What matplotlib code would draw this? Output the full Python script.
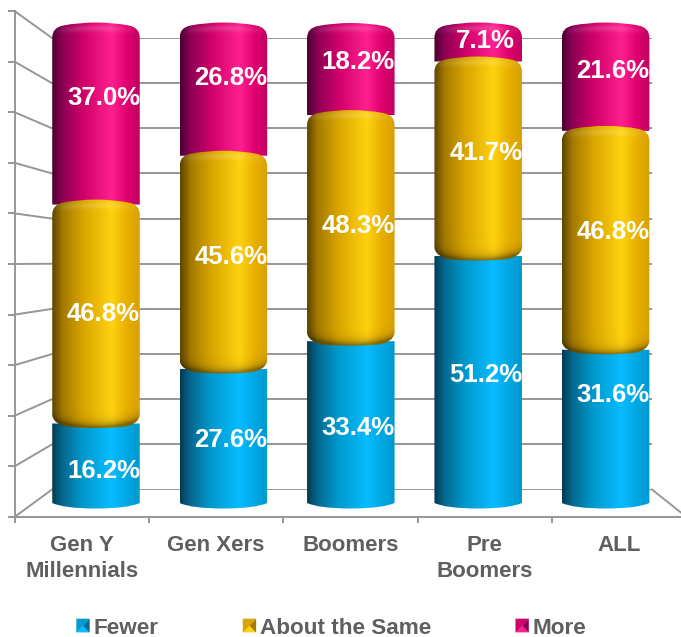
from __future__ import annotations

import matplotlib

matplotlib.use("Agg")

import matplotlib.pyplot as plt
import numpy as np
from matplotlib.legend_handler import HandlerBase
from matplotlib.lines import Line2D
from matplotlib.patches import Patch, PathPatch, Polygon
from matplotlib.path import Path

categories = ["Gen Y\nMillennials", "Gen Xers", "Boomers", "Pre\nBoomers", "ALL"]
fewer = [16.2, 27.6, 33.4, 51.2, 31.6]
same = [46.8, 45.6, 48.3, 41.7, 46.8]
more = [37.0, 26.8, 18.2, 7.1, 21.6]
y_ticks = list(range(0, 101, 10))

# labels were placed by hand in the original, pixels up from segment middle
nudge_fewer = [-9, -5, -7, 4, 30]
nudge_same = [-2, 3, 0, 3, 6]
nudge_more = [13, 9, 5, -2, 3]

W, H = 681, 637
GRID = "#969696"
TEXT = "#5f5f5f"
STOPS = [0.0, 0.12, 0.35, 0.68, 0.85, 1.0]
BLUE = ["#043a52", "#05688f", "#0099cc", "#08bcff", "#00a8e4", "#0098cf"]
GOLD = ["#5e4500", "#a37a00", "#d8a400", "#ffd20f", "#e8b000", "#d9a000"]
PINK = ["#4d0030", "#8c0055", "#cf0068", "#ff2090", "#e0006f", "#c00060"]

# bar plane: value 0 sits at y=501px, 4.785 px per percent, 127.4 px per category
PX_Y = 4.785
PX_X = 127.4
BAR_WIDTH = 0.687


def px_axes(fig, left, right, top, bottom, **kwargs):
    return fig.add_axes(
        [left / W, 1 - bottom / H, (right - left) / W, (bottom - top) / H], **kwargs
    )


def to_rgb_array(colors):
    return np.array([matplotlib.colors.to_rgb(c) for c in colors])


def shading(colors, height_px, width_px, kind):
    rows, cols = int(height_px * 2), int(width_px * 2)
    t = np.linspace(0, 1, cols)
    y = np.linspace(0, height_px, rows)
    tt, yy = np.meshgrid(t, y)
    rgb = to_rgb_array(colors)
    img = np.dstack([np.interp(tt, STOPS, rgb[:, k]) for k in range(3)])

    edge = (2 * tt - 1) ** 2
    if kind in ("middle", "top"):
        v = yy - 3 * edge
        glow = 0.16 * np.exp(-(((v - 6) / 3) ** 2)) * (1 - edge)
        img = img + (1 - img) * glow[..., None]
    if kind == "middle":
        d = (height_px - 9) - yy + 7 * (1 - edge) - 3
        dark = 1 - 0.42 * np.exp(-np.clip(d, 0, None) / 4)
        img = img * dark[..., None]
    return np.clip(img, 0, 1)


def segment_path(i, low, high, kind):
    dx = 1 / PX_X
    dy = 1 / PX_Y
    x0, x1 = i - BAR_WIDTH / 2, i + BAR_WIDTH / 2
    verts = []
    codes = []

    def add(code, x, y):
        verts.append((x, y))
        codes.append(code)

    # bottom edge, left to right
    if kind == "bottom":
        add(Path.MOVETO, x0, low - 2 * dy)
        add(Path.CURVE3, x0 + 12 * dx, low - 7.5 * dy)
        add(Path.CURVE3, i, low - 7.5 * dy)
        add(Path.CURVE3, x1 - 12 * dx, low - 7.5 * dy)
        add(Path.CURVE3, x1, low - 2 * dy)
    elif kind == "middle":
        add(Path.MOVETO, x0, low + 8 * dy)
        add(Path.CURVE3, x0 + 2 * dx, low - 2 * dy)
        add(Path.CURVE3, x0 + 18 * dx, low - 3.5 * dy)
        add(Path.CURVE3, x0 + 30 * dx, low - 4.5 * dy)
        add(Path.CURVE3, i, low - 4.5 * dy)
        add(Path.CURVE3, x1 - 30 * dx, low - 4.5 * dy)
        add(Path.CURVE3, x1 - 18 * dx, low - 3.5 * dy)
        add(Path.CURVE3, x1 - 2 * dx, low - 2 * dy)
        add(Path.CURVE3, x1, low + 8 * dy)
    else:
        add(Path.MOVETO, x0, low - 5 * dy)
        add(Path.LINETO, x1, low - 5 * dy)

    # top edge, right to left
    if kind == "bottom":
        add(Path.LINETO, x1, high)
        add(Path.LINETO, x0, high)
    else:
        add(Path.LINETO, x1, high - 15 * dy)
        add(Path.CURVE3, x1, high - 5 * dy)
        add(Path.CURVE3, x1 - 11 * dx, high - 3 * dy)
        add(Path.CURVE3, x1 - 26 * dx, high)
        add(Path.CURVE3, i, high)
        add(Path.CURVE3, x0 + 26 * dx, high)
        add(Path.CURVE3, x0 + 11 * dx, high - 3 * dy)
        add(Path.CURVE3, x0, high - 5 * dy)
        add(Path.CURVE3, x0, high - 15 * dy)
    add(Path.CLOSEPOLY, x0, low)
    return Path(verts, codes)


def draw_segment(ax, i, low, high, colors, kind, zorder):
    x0, x1 = i - BAR_WIDTH / 2, i + BAR_WIDTH / 2
    pad = 9 / PX_Y
    height_px = (high - low) * PX_Y + 9
    width_px = (x1 - x0) * PX_X
    img = shading(colors, height_px, width_px, kind)
    im = ax.imshow(
        img,
        extent=[x0, x1, low - pad, high],
        aspect="auto",
        origin="upper",
        interpolation="bilinear",
        zorder=zorder,
    )
    clip = PathPatch(segment_path(i, low, high, kind), transform=ax.transData)
    im.set_clip_path(clip)


class BevelHandler(HandlerBase):
    def create_artists(self, legend, orig_handle, xdescent, ydescent, width, height, fontsize, trans):
        x0, y0 = -xdescent, -ydescent
        x1, y1 = x0 + width, y0 + height
        cx, cy = (x0 + x1) / 2, (y0 + y1) / 2
        dark, mid, light = orig_handle.bevel
        faces = [
            ([(x0, y0), (x1, y0), (cx, cy)], light),
            ([(x1, y0), (x1, y1), (cx, cy)], dark),
            ([(x1, y1), (x0, y1), (cx, cy)], mid),
            ([(x0, y1), (x0, y0), (cx, cy)], mid),
        ]
        return [Polygon(pts, closed=True, facecolor=c, edgecolor=c, linewidth=0.2, transform=trans) for pts, c in faces]


def bevel_patch(label, colors):
    patch = Patch(label=label)
    patch.bevel = (colors[1], colors[2], colors[3])
    return patch


def draw_walls(fig):
    ax_back = px_axes(fig, 52, 652, 38, 489.5, zorder=0)
    ax_back.set_xlim(0, 1)
    ax_back.set_ylim(0, 100)
    ax_back.set_yticks(y_ticks)
    ax_back.set_xticks([])
    ax_back.tick_params(length=0, labelleft=False)
    ax_back.grid(axis="y", color=GRID, linewidth=1.4)
    ax_back.set_axisbelow(True)
    ax_back.patch.set_alpha(0)
    for spine in ax_back.spines.values():
        spine.set_visible(False)

    ax_front = px_axes(fig, 14.5, 686.5, 11, 517, zorder=1)
    ax_front.patch.set_alpha(0)
    ax_front.set_xlim(-0.5, 4.5)
    ax_front.set_ylim(0, 100)
    ax_front.set_yticks(y_ticks)
    ax_front.set_xticks(range(len(categories)))
    ax_front.set_xticklabels(categories, fontsize=16, fontweight="bold", color=TEXT, linespacing=1.3)
    ax_front.set_xticks(np.arange(-0.5, 5), minor=True)
    ax_front.tick_params(axis="x", which="major", length=0, pad=13)
    ax_front.tick_params(axis="x", which="minor", length=4, width=1.4, color=GRID)
    ax_front.tick_params(axis="y", length=5, width=1.4, color=GRID, labelleft=False)
    ax_front.spines["top"].set_visible(False)
    ax_front.spines["right"].set_visible(False)
    for side in ("left", "bottom"):
        ax_front.spines[side].set_color(GRID)
        ax_front.spines[side].set_linewidth(1.4)

    # side wall lines run from the back plane to the front plane
    to_fig = fig.transFigure.inverted()
    for v in y_ticks:
        p0 = to_fig.transform(ax_back.transData.transform((0, v)))
        p1 = to_fig.transform(ax_front.transData.transform((-0.5, v)))
        fig.add_artist(Line2D([p0[0], p1[0]], [p0[1], p1[1]], color=GRID, linewidth=1.4, zorder=0.5))
    p0 = to_fig.transform(ax_back.transData.transform((1, 0)))
    p1 = to_fig.transform(ax_front.transData.transform((4.5, 0)))
    fig.add_artist(Line2D([p0[0], p1[0]], [p0[1], p1[1]], color=GRID, linewidth=1.4, zorder=0.5))


def draw_bars(fig):
    y_low, y_high = -10, 103
    ax = px_axes(
        fig,
        96 - PX_X / 2,
        96 + 4.5 * PX_X,
        501 - y_high * PX_Y,
        501 - y_low * PX_Y,
        zorder=3,
    )
    ax.patch.set_alpha(0)
    ax.axis("off")

    for i in range(len(categories)):
        a = fewer[i]
        b = a + same[i]
        c = b + more[i]
        draw_segment(ax, i, b, c, PINK, "top", 1)
        draw_segment(ax, i, 0, a, BLUE, "bottom", 2)
        draw_segment(ax, i, a, b, GOLD, "middle", 3)

        spans = [(0, a, fewer[i], nudge_fewer[i]), (a, b, same[i], nudge_same[i]), (b, c, more[i], nudge_more[i])]
        for low, high, value, nudge in spans:
            ax.annotate(
                f"{value:.1f}%",
                xy=(i, (low + high) / 2),
                xytext=(7.5 * 0.72, nudge * 0.72),
                textcoords="offset points",
                ha="center",
                va="center",
                color="white",
                fontsize=18.5,
                fontweight="bold",
                zorder=5,
            )

    ax.set_xlim(-0.5, 4.5)
    ax.set_ylim(y_low, y_high)


def main() -> None:
    plt.rcParams["font.family"] = ["Liberation Sans", "DejaVu Sans"]
    fig = plt.figure(figsize=(W / 100, H / 100), dpi=100)
    fig.patch.set_facecolor("white")

    draw_walls(fig)
    draw_bars(fig)

    handles = [
        bevel_patch("Fewer", BLUE),
        bevel_patch("About the Same", GOLD),
        bevel_patch("More", PINK),
    ]
    fig.legend(
        handles=handles,
        handler_map={Patch: BevelHandler()},
        loc="center",
        bbox_to_anchor=(331.5 / W, 1 - 628 / H),
        ncol=3,
        frameon=False,
        prop={"size": 16.2, "weight": "bold"},
        labelcolor=TEXT,
        handlelength=0.58,
        handleheight=0.53,
        handletextpad=0.18,
        columnspacing=3.75,
        borderpad=0,
    )

    fig.savefig("out.png", dpi=100)
    plt.close(fig)


if __name__ == "__main__":
    main()
